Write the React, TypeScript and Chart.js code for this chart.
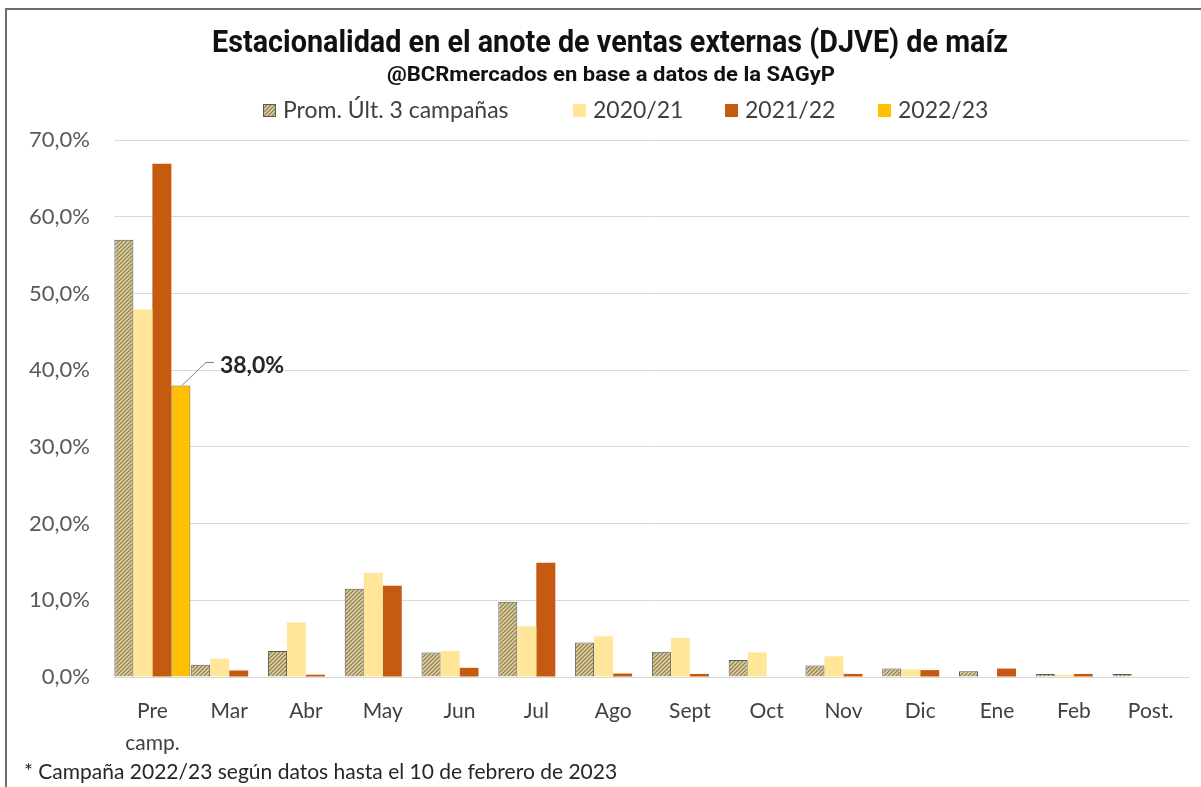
import React, { useEffect, useRef } from "react";
import { Chart, registerables } from "chart.js";
Chart.register(...registerables);

const categories: (string | string[])[] = [["Pre", "camp."], "Mar", "Abr", "May", "Jun", "Jul", "Ago", "Sept", "Oct", "Nov", "Dic", "Ene", "Feb", "Post."];
const seriesNames = ["Prom. Últ. 3 campañas", "2020/21", "2021/22", "2022/23"];
const promValues = [57.0, 1.6, 3.4, 11.5, 3.2, 9.8, 4.5, 3.3, 2.2, 1.5, 1.1, 0.75, 0.4, 0.4];
const values2021 = [47.9, 2.4, 7.1, 13.6, 3.4, 6.6, 5.3, 5.1, 3.2, 2.7, 1.0, null, 0.3, null];
const values2122 = [66.9, 0.85, 0.3, 11.9, 1.2, 14.9, 0.45, 0.4, null, 0.4, 0.9, 1.1, 0.4, null];
const values2223 = [38.0, null, null, null, null, null, null, null, null, null, null, null, null, null];
const yMin = 0;
const yMax = 70;
const yStep = 10;
const titleText = "Estacionalidad en el anote de ventas externas (DJVE) de maíz";
const subtitleText = "@BCRmercados en base a datos de la SAGyP";
const footnoteText = "* Campaña 2022/23 según datos hasta el 10 de febrero de 2023";
const highlightLabel = "38,0%";

function makePattern(): CanvasPattern | string {
  const c = document.createElement("canvas");
  c.width = 4;
  c.height = 4;
  const g = c.getContext("2d");
  if (!g) return "#B9A97A";
  g.fillStyle = "#DCCFA0";
  g.fillRect(0, 0, 4, 4);
  g.strokeStyle = "#8A7A4C";
  g.lineWidth = 1.2;
  g.beginPath();
  g.moveTo(-1, 5);
  g.lineTo(5, -1);
  g.moveTo(-1, 1);
  g.lineTo(1, -1);
  g.moveTo(3, 5);
  g.lineTo(5, 3);
  g.stroke();
  const p = g.createPattern(c, "repeat");
  return p || "#B9A97A";
}

function drawCondensed(ctx: CanvasRenderingContext2D, text: string, left: number, right: number, baseline: number, font: string) {
  ctx.save();
  ctx.font = font;
  ctx.textAlign = "left";
  ctx.textBaseline = "alphabetic";
  const w = ctx.measureText(text).width;
  const sx = (right - left) / w;
  ctx.translate(left, baseline);
  ctx.scale(sx, 1);
  ctx.fillText(text, 0, 0);
  ctx.restore();
}

export default function App() {
  const ref = useRef<HTMLCanvasElement>(null);
  useEffect(() => {
    if (!ref.current) return;
    const pattern = makePattern();
    const legendStarts = [263, 573, 725, 878];
    const decor = {
      id: "decor",
      beforeDraw(chart: any) {
        const ctx = chart.ctx;
        ctx.save();
        ctx.fillStyle = "#ffffff";
        ctx.fillRect(0, 0, chart.width, chart.height);
        ctx.strokeStyle = "#6e6e6e";
        ctx.lineWidth = 2;
        ctx.beginPath();
        ctx.moveTo(6, chart.height);
        ctx.lineTo(6, 9);
        ctx.lineTo(chart.width, 9);
        ctx.stroke();
        ctx.restore();
      },
      afterDraw(chart: any) {
        const ctx = chart.ctx;
        ctx.save();
        // title & subtitle
        ctx.fillStyle = "#111111";
        drawCondensed(ctx, titleText, 212, 1008, 52, "bold 31px Roboto");
        drawCondensed(ctx, subtitleText, 387, 835, 81, "bold 21px Roboto");
        // legend
        ctx.font = "23px Lato";
        ctx.textAlign = "left";
        ctx.textBaseline = "middle";
        chart.data.datasets.forEach((ds: any, i: number) => {
          const x = legendStarts[i];
          ctx.fillStyle = ds.backgroundColor;
          ctx.fillRect(x, 104, 13, 13);
          if (i === 0) {
            ctx.strokeStyle = "#595959";
            ctx.lineWidth = 1;
            ctx.strokeRect(x + 0.5, 104.5, 12, 12);
          }
          ctx.fillStyle = "#404040";
          ctx.fillText(ds.label, x + 20, 111);
        });
        // footnote
        ctx.font = "21px Lato";
        ctx.fillStyle = "#262626";
        ctx.fillText(footnoteText, 24, 772);
        // data label
        const meta = chart.getDatasetMeta(3);
        const el = meta.data[0];
        if (el) {
          const bx = el.x;
          const by = el.y;
          ctx.strokeStyle = "#7f7f7f";
          ctx.lineWidth = 1;
          ctx.beginPath();
          ctx.moveTo(bx + 1, by);
          ctx.lineTo(bx + 25, by - 23);
          ctx.lineTo(bx + 33, by - 23);
          ctx.stroke();
          ctx.font = "bold 23px Lato";
          ctx.fillStyle = "#262626";
          ctx.textBaseline = "middle";
          ctx.fillText(highlightLabel, bx + 39, by - 20);
        }
        ctx.restore();
      },
    };
    const chart = new Chart(ref.current, {
      type: "bar",
      data: {
        labels: categories,
        datasets: [
          { label: seriesNames[0], data: promValues, backgroundColor: pattern as any, borderColor: "#595959", borderWidth: 1 },
          { label: seriesNames[1], data: values2021, backgroundColor: "#FFE699", borderWidth: 0 },
          { label: seriesNames[2], data: values2122, backgroundColor: "#C55A11", borderWidth: 0 },
          { label: seriesNames[3], data: values2223, backgroundColor: "#FFC000", borderColor: "#7F6000", borderWidth: 1 },
        ],
      },
      options: {
        responsive: false,
        animation: false,
        devicePixelRatio: 1,
        layout: { padding: { top: 140, left: 0, right: 12, bottom: 0 } },
        datasets: { bar: { categoryPercentage: 0.99, barPercentage: 1.0 } },
        plugins: {
          legend: { display: false },
          title: { display: false },
          tooltip: { enabled: false },
        },
        scales: {
          x: {
            grid: { display: false, drawTicks: false },
            border: { display: true, color: "#D9D9D9" },
            ticks: {
              font: { family: "Lato", size: 21, lineHeight: 1.52 },
              color: "#404040",
              padding: 18,
              maxRotation: 0,
              autoSkip: false,
            },
            afterFit(scale: any) {
              scale.height = 110;
            },
          },
          y: {
            min: yMin,
            max: yMax,
            grid: { color: "#D9D9D9", lineWidth: 1, drawTicks: false },
            border: { display: false },
            ticks: {
              stepSize: yStep,
              font: { family: "Lato", size: 22 },
              color: "#595959",
              padding: 24,
              callback: (v: any) => Number(v).toFixed(1).replace(".", ",") + "%",
            },
            afterFit(scale: any) {
              scale.width = 114;
            },
          },
        },
      },
      plugins: [decor],
    });
    return () => chart.destroy();
  }, []);
  return (
    <div style={{ position: "fixed", left: 0, top: 0, width: 1201, height: 787, overflow: "hidden", background: "#fff" }}>
      <canvas ref={ref} width={1201} height={787} style={{ display: "block", width: 1201, height: 787 }} />
    </div>
  );
}
